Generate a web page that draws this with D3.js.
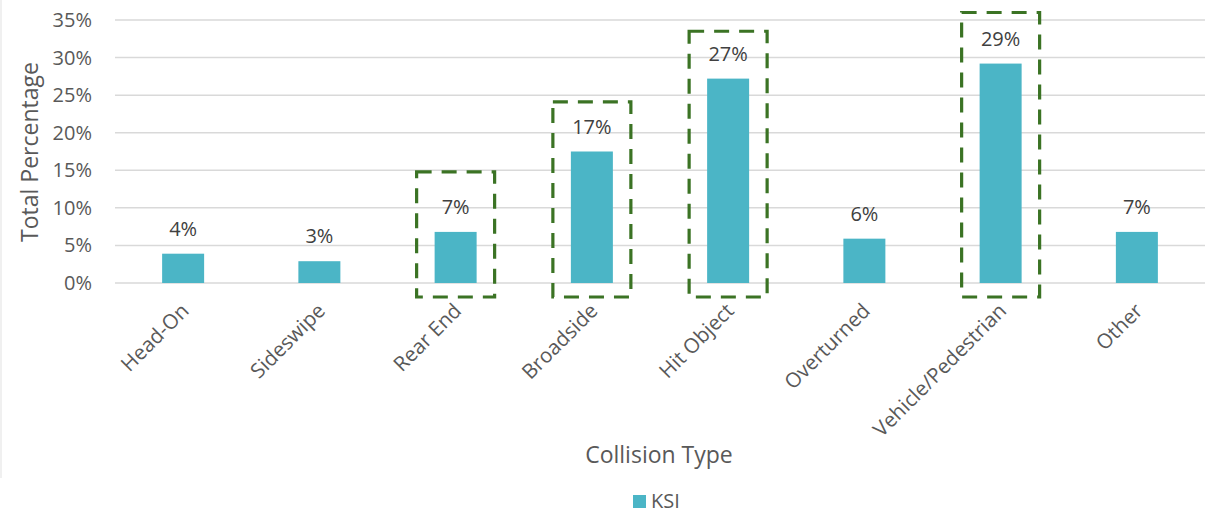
<!DOCTYPE html>
<html>
<head>
<meta charset="utf-8">
<script src="https://cdn.jsdelivr.net/npm/d3@7/dist/d3.min.js"></script>
<style>
  html, body { margin: 0; padding: 0; background: #fff; }
  svg { display: block; font-family: "Open Sans", "Noto Sans", sans-serif; }
</style>
</head>
<body>
<svg id="chart" width="1212" height="513"></svg>
<script>
const categories = ["Head-On", "Sideswipe", "Rear End", "Broadside", "Hit Object", "Overturned", "Vehicle/Pedestrian", "Other"];
const ksiValues = [3.9, 2.9, 6.8, 17.5, 27.2, 5.9, 29.2, 6.8];
const valueLabels = ["4%", "3%", "7%", "17%", "27%", "6%", "29%", "7%"];
const yTicks = [0, 5, 10, 15, 20, 25, 30, 35];
const highlighted = ["Rear End", "Broadside", "Hit Object", "Vehicle/Pedestrian"];
const highlightTops = [14.8, 24.1, 33.5, 36.0];
const seriesName = "KSI";

const svg = d3.select("#chart");
const W = 1212, H = 513;
const m = { left: 115, right: 7, top: 20, bottom: 230 };
const x = d3.scaleBand().domain(categories).range([m.left, W - m.right]).paddingInner(0).paddingOuter(0);
const y = d3.scaleLinear().domain([0, 35]).range([283, 20]);

const textColor = "#595959";
const barColor = "#4bb5c6";
const barW = 42;

// faint left border
svg.append("line").attr("x1", 1).attr("x2", 1).attr("y1", 0).attr("y2", 478)
  .attr("stroke", "#f0f0f0").attr("stroke-width", 2);

// gridlines
svg.append("g").selectAll("line").data(yTicks).join("line")
  .attr("x1", m.left).attr("x2", W - m.right)
  .attr("y1", d => y(d)).attr("y2", d => y(d))
  .attr("stroke", "#d9d9d9").attr("stroke-width", 1.5);

// y tick labels
svg.append("g").selectAll("text").data(yTicks).join("text")
  .attr("x", 92).attr("y", d => y(d))
  .attr("dy", "0.35em")
  .attr("text-anchor", "end")
  .attr("font-size", 20).attr("fill", textColor)
  .text(d => d + "%");

// bars
svg.append("g").selectAll("rect").data(categories).join("rect")
  .attr("x", d => x(d) + x.bandwidth() / 2 - barW / 2)
  .attr("width", barW)
  .attr("y", (d, i) => y(ksiValues[i]))
  .attr("height", (d, i) => y(0) - y(ksiValues[i]))
  .attr("fill", barColor);

// value labels
svg.append("g").selectAll("text").data(categories).join("text")
  .attr("x", d => x(d) + x.bandwidth() / 2)
  .attr("y", (d, i) => y(ksiValues[i]) - 18)
  .attr("text-anchor", "middle")
  .attr("font-size", 20).attr("fill", "#404040")
  .text((d, i) => valueLabels[i]);

// highlight boxes
const boxW = 78;
svg.append("g").selectAll("rect").data(highlighted).join("rect")
  .attr("x", d => x(d) + x.bandwidth() / 2 - boxW / 2)
  .attr("width", boxW)
  .attr("y", (d, i) => y(highlightTops[i]))
  .attr("height", (d, i) => y(0) + 14 - y(highlightTops[i]))
  .attr("fill", "none")
  .attr("stroke", "#3b7324").attr("stroke-width", 3.2)
  .attr("stroke-dasharray", "15 10");

// x category labels
svg.append("g").selectAll("text").data(categories).join("text")
  .attr("transform", d => `translate(${x(d) + x.bandwidth() / 2 + 2},${307}) rotate(-45)`)
  .attr("text-anchor", "end")
  .attr("dy", "0.35em")
  .attr("font-size", 20.5).attr("fill", textColor)
  .text(d => d);

// axis titles
svg.append("text")
  .attr("x", 659).attr("y", 463)
  .attr("text-anchor", "middle")
  .attr("font-size", 23).attr("fill", textColor)
  .text("Collision Type");

svg.append("text")
  .attr("transform", `translate(38,152) rotate(-90)`)
  .attr("text-anchor", "middle")
  .attr("font-size", 23).attr("fill", textColor)
  .text("Total Percentage");

// legend
svg.append("rect").attr("x", 633).attr("y", 495).attr("width", 13).attr("height", 13).attr("fill", barColor);
svg.append("text").attr("x", 651).attr("y", 508)
  .attr("font-size", 20).attr("fill", textColor).text(seriesName);
</script>
</body>
</html>
